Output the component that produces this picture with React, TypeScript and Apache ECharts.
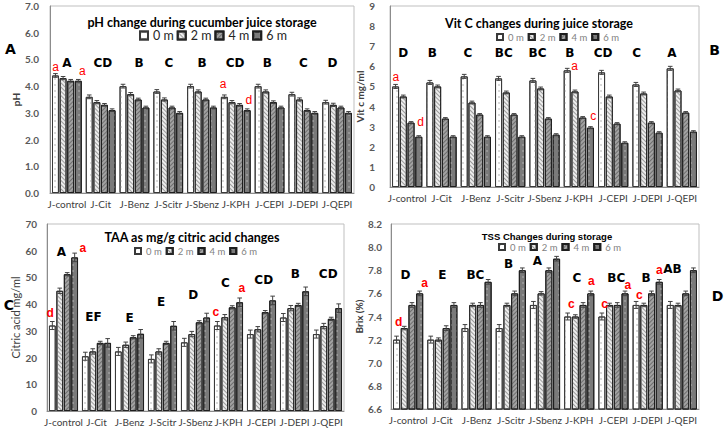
import React, { useEffect, useRef } from 'react';
import * as echarts from 'echarts';

const categories = ['J-control', 'J-Cit', 'J-Benz', 'J-Scitr', 'J-Sbenz', 'J-KPH', 'J-CEPI', 'J-DEPI', 'J-QEPI'];
const periods = ['0 m', '2 m', '4 m', '6 m'];

// Panel A: pH
const ph0m = [4.4, 3.6, 4.0, 3.8, 4.0, 3.6, 4.0, 3.7, 3.4];
const ph2m = [4.3, 3.4, 3.7, 3.5, 3.8, 3.4, 3.8, 3.5, 3.3];
const ph4m = [4.2, 3.3, 3.5, 3.2, 3.5, 3.3, 3.4, 3.1, 3.2];
const ph6m = [4.2, 3.1, 3.2, 3.0, 3.2, 3.1, 3.2, 3.0, 3.0];
const phErr = [0.07, 0.06, 0.05, 0.05];
const phLetters = [
  { cat: 0, bar: 1.5, y: 4.86, t: 'A' }, { cat: 1, bar: 1.8, y: 4.86, t: 'CD' }, { cat: 2, bar: 2.1, y: 4.86, t: 'B' },
  { cat: 3, bar: 1.6, y: 4.86, t: 'C' }, { cat: 4, bar: 1.5, y: 4.86, t: 'B' }, { cat: 5, bar: 1.4, y: 4.86, t: 'CD' },
  { cat: 6, bar: 1.2, y: 4.86, t: 'B' }, { cat: 7, bar: 1.5, y: 4.86, t: 'C' }, { cat: 8, bar: 0.9, y: 4.86, t: 'D' },
];
const phMarks = [
  { cat: 0, bar: 0.03, y: 4.71, t: 'a' }, { cat: 0, bar: 3.54, y: 4.55, t: 'a' },
  { cat: 5, bar: -0.16, y: 4.07, t: 'a' }, { cat: 5, bar: 3.22, y: 3.48, t: 'd' },
];

// Panel B: Vitamin C
const vc0m = [5.0, 5.2, 5.5, 5.4, 5.3, 5.8, 5.7, 5.1, 5.9];
const vc2m = [4.5, 5.0, 4.2, 4.7, 4.9, 4.75, 4.5, 4.65, 4.8];
const vc4m = [3.2, 3.4, 3.6, 3.6, 3.4, 3.45, 3.15, 3.2, 3.7];
const vc6m = [2.5, 2.5, 2.5, 2.5, 2.6, 2.95, 2.2, 2.7, 2.75];
const vcErr = [0.1, 0.07, 0.05, 0.05];
const vcLetters = [
  { cat: 0, bar: 1.0, y: 6.64, t: 'D' }, { cat: 1, bar: 0.33, y: 6.64, t: 'B' }, { cat: 2, bar: 0.46, y: 6.64, t: 'C' },
  { cat: 3, bar: 0.68, y: 6.64, t: 'BC' }, { cat: 4, bar: 0.6, y: 6.64, t: 'BC' }, { cat: 5, bar: 0.34, y: 6.64, t: 'B' },
  { cat: 6, bar: 0.2, y: 6.64, t: 'CD' }, { cat: 7, bar: 0.1, y: 6.64, t: 'C' }, { cat: 8, bar: 0.2, y: 6.64, t: 'A' },
];
const vcMarks = [
  { cat: 0, bar: 0.03, y: 5.49, t: 'a' }, { cat: 0, bar: 3.22, y: 3.25, t: 'd' },
  { cat: 5, bar: 0.95, y: 6.02, t: 'a' }, { cat: 5, bar: 3.36, y: 3.55, t: 'c' },
];

// Panel C: TAA
const taa0m = [32, 20.5, 22.3, 19.5, 25.7, 32, 28.8, 35, 28.8];
const taa2m = [45, 22.3, 24.8, 22.3, 28.8, 35.1, 30.6, 38.5, 31.8];
const taa4m = [51.2, 25.5, 27.6, 25.5, 33.2, 38.8, 37, 39.7, 34.5];
const taa6m = [57.5, 25.5, 28.9, 31.9, 35, 40.7, 41.4, 44.8, 38.5];
const taaErr = [1.5, 1.0, 0.6, 1.6];
const taaLetters = [
  { cat: 0, bar: 1.2, y: 59.6, t: 'A' }, { cat: 1, bar: 1.1, y: 35.3, t: 'EF' }, { cat: 2, bar: 1.5, y: 34.9, t: 'E' },
  { cat: 3, bar: 1.3, y: 40.9, t: 'E' }, { cat: 4, bar: 1.2, y: 43.4, t: 'D' }, { cat: 5, bar: 1.1, y: 47.8, t: 'C' },
  { cat: 6, bar: 1.8, y: 49.0, t: 'CD' }, { cat: 7, bar: 1.6, y: 51.2, t: 'B' }, { cat: 8, bar: 1.6, y: 51.2, t: 'CD' },
];
const taaMarks = [
  { cat: 0, bar: -0.29, y: 36.8, t: 'd' }, { cat: 0, bar: 4.1, y: 60.9, t: 'a' },
  { cat: 5, bar: -0.2, y: 37.2, t: 'c' }, { cat: 5, bar: 3.3, y: 45.9, t: 'a' },
];

// Panel D: TSS
const tss0m = [7.2, 7.2, 7.3, 7.3, 7.5, 7.4, 7.4, 7.5, 7.5];
const tss2m = [7.3, 7.2, 7.5, 7.5, 7.6, 7.4, 7.5, 7.5, 7.5];
const tss4m = [7.5, 7.3, 7.5, 7.6, 7.8, 7.5, 7.5, 7.6, 7.6];
const tss6m = [7.6, 7.5, 7.7, 7.8, 7.9, 7.6, 7.6, 7.7, 7.8];
const tssErr = [0.03, 0.015, 0.02, 0.02];
const tssLetters = [
  { cat: 0, bar: 1.15, y: 7.76, t: 'D' }, { cat: 1, bar: 1.5, y: 7.76, t: 'E' }, { cat: 2, bar: 1.35, y: 7.76, t: 'BC' },
  { cat: 3, bar: 1.2, y: 7.85, t: 'B' }, { cat: 4, bar: 0.5, y: 7.88, t: 'A' }, { cat: 5, bar: 1.2, y: 7.73, t: 'C' },
  { cat: 6, bar: 1.86, y: 7.73, t: 'BC' }, { cat: 7, bar: 1.28, y: 7.73, t: 'B' }, { cat: 8, bar: 0.28, y: 7.81, t: 'AB' },
];
const tssMarks = [
  { cat: 0, bar: 0.28, y: 7.35, t: 'd' }, { cat: 0, bar: 3.65, y: 7.69, t: 'a' },
  { cat: 5, bar: 0.48, y: 7.51, t: 'c' }, { cat: 5, bar: 3.07, y: 7.71, t: 'a' },
  { cat: 6, bar: 0.35, y: 7.51, t: 'c' }, { cat: 6, bar: 3.38, y: 7.67, t: 'a' },
  { cat: 7, bar: 0.41, y: 7.59, t: 'c' }, { cat: 7, bar: 3.0, y: 7.8, t: 'a' },
];

const BAR_W = 0.205;
const BAR_GAP = 0.1;
const STEP = BAR_W * (1 + BAR_GAP);

const barStyles = [
  {
    color: '#ffffff', borderColor: '#3a3a3a', borderWidth: 1,
    decal: { symbol: 'circle', symbolSize: 0.8, color: '#c4c4c4', dashArrayX: [1.5, 4], dashArrayY: [1.5, 4] },
  },
  {
    color: '#ececec', borderColor: '#262626', borderWidth: 1,
    decal: { symbol: 'rect', color: '#9c9c9c', dashArrayX: [1, 0], dashArrayY: [1, 2], rotation: Math.PI / 4 },
  },
  {
    color: '#a2a2a2', borderColor: '#1e1e1e', borderWidth: 1,
    decal: { symbol: 'rect', color: '#6e6e6e', dashArrayX: [1, 0], dashArrayY: [1, 1.6], rotation: -Math.PI / 4 },
  },
  {
    color: '#7a7a7a', borderColor: '#1e1e1e', borderWidth: 1,
    decal: { symbol: 'circle', symbolSize: 0.8, color: '#a6a6a6', dashArrayX: [1.5, 3.5], dashArrayY: [1.5, 3.5] },
  },
];

const panels = [
  {
    values: [ph0m, ph2m, ph4m, ph6m], err: phErr, letters: phLetters, marks: phMarks,
    grid: { left: 50, top: 6, width: 304, height: 187 },
    y: { min: 0, max: 7, interval: 1, dec: 1, name: 'pH', nameGap: 14, nameSize: 10, nameBold: true, labelMargin: 11 },
    legend: { left: 139, top: 29, icon: 8, gap: 3, size: 12.5, color: '#262626' },
    title: { text: 'pH change during cucumber juice storage', x: 202, y: 22, font: 'bold 12.5px Lato' },
    markBold: false,
  },
  {
    values: [vc0m, vc2m, vc4m, vc6m], err: vcErr, letters: vcLetters, marks: vcMarks,
    grid: { left: 390, top: 6, width: 309, height: 181 },
    y: { min: 0, max: 9, interval: 1, dec: 0, name: 'Vit c mg/ml', nameGap: 19, nameSize: 10, nameBold: true, labelMargin: 15 },
    legend: { left: 496, top: 32, icon: 6, gap: 4, size: 9.5, color: '#7f7f7f' },
    title: { text: 'Vit C changes during juice storage', x: 539, y: 23, font: 'bold 12.5px Lato' },
    markBold: false,
  },
  {
    values: [taa0m, taa2m, taa4m, taa6m], err: taaErr, letters: taaLetters, marks: taaMarks,
    grid: { left: 47, top: 224, width: 297, height: 187 },
    y: { min: 0, max: 70, interval: 10, dec: 0, name: 'Citric acid mg/ml', nameGap: 21, nameSize: 11, nameBold: false, labelMargin: 10 },
    legend: { left: 134, top: 246, icon: 6, gap: 4, size: 9.5, color: '#7f7f7f' },
    title: { text: 'TAA as mg/g citric acid changes', x: 192, y: 237, font: 'bold 12.5px Lato' },
    markBold: true,
  },
  {
    values: [tss0m, tss2m, tss4m, tss6m], err: tssErr, letters: tssLetters, marks: tssMarks,
    grid: { left: 391, top: 224, width: 308, height: 185 },
    y: { min: 6.6, max: 8.2, interval: 0.2, dec: 1, name: 'Brix (%)', nameGap: 22, nameSize: 10, nameBold: true, labelMargin: 9 },
    legend: { left: 498, top: 242, icon: 6, gap: 4, size: 9.5, color: '#7f7f7f' },
    title: { text: 'TSS Changes during storage', x: 547, y: 236, font: 'bold 9.5px "Liberation Sans"' },
    markBold: true,
  },
];

const panelLetters = [
  { t: 'A', x: 10.5, y: 48.5 },
  { t: 'B', x: 714.5, y: 50 },
  { t: 'C', x: 9, y: 305 },
  { t: 'D', x: 717.5, y: 296 },
];

function App() {
  const ref = useRef<HTMLDivElement>(null);

  useEffect(() => {
    document.body.style.margin = '0';
    const chart = echarts.init(ref.current as HTMLDivElement, null, { renderer: 'svg' });

    const grids: any[] = [];
    const xAxes: any[] = [];
    const yAxes: any[] = [];
    const legends: any[] = [];
    const series: any[] = [];
    const graphics: any[] = [];

    panels.forEach((p, k) => {
      grids.push({ ...p.grid, show: true, borderColor: '#bfbfbf', borderWidth: 1, containLabel: false });
      xAxes.push({
        type: 'category', gridIndex: k, data: categories,
        axisTick: { show: false },
        axisLine: { lineStyle: { color: '#8c8c8c', width: 1 } },
        axisLabel: { interval: 0, fontSize: 10, color: '#404040', fontFamily: 'Lato', margin: 6 },
      });
      yAxes.push({
        type: 'value', gridIndex: k, min: p.y.min, max: p.y.max, interval: p.y.interval,
        splitLine: { show: false },
        axisTick: { show: false },
        axisLine: { show: true, lineStyle: { color: '#8c8c8c', width: 1 } },
        axisLabel: {
          fontSize: 10, fontWeight: 'bold', color: '#595959', fontFamily: 'Lato', margin: p.y.labelMargin,
          formatter: (v: number) => v.toFixed(p.y.dec),
        },
        name: p.y.name, nameLocation: 'middle', nameGap: p.y.nameGap,
        nameTextStyle: {
          fontSize: p.y.nameSize, fontWeight: p.y.nameBold ? 'bold' : 'normal', color: '#404040', fontFamily: 'Lato',
        },
      });
      legends.push({
        show: true, data: periods, left: p.legend.left, top: p.legend.top, orient: 'horizontal',
        icon: 'rect', itemWidth: p.legend.icon, itemHeight: p.legend.icon, itemGap: p.legend.gap,
        selectedMode: false, padding: 0,
        textStyle: { fontSize: p.legend.size, color: p.legend.color, fontFamily: 'Lato' },
      });

      p.values.forEach((vals, i) => {
        series.push({
          type: 'bar', name: periods[i], xAxisIndex: k, yAxisIndex: k, data: vals,
          barWidth: `${BAR_W * 100}%`, barGap: `${BAR_GAP * 100}%`,
          itemStyle: barStyles[i], silent: true,
        });
      });

      const errData: number[][] = [];
      p.values.forEach((vals, i) => {
        vals.forEach((v, c) => errData.push([c, i, v, p.err[i]]));
      });
      series.push({
        type: 'custom', xAxisIndex: k, yAxisIndex: k, z: 5, silent: true,
        encode: { x: 0, y: 2 }, data: errData,
        renderItem: (params: any, api: any) => {
          const c = api.value(0), i = api.value(1), v = api.value(2), e = api.value(3);
          const w = api.size([1, 0])[0];
          const x = api.coord([c, v])[0] + (i - 1.5) * STEP * w;
          const yTop = api.coord([c, v + e])[1];
          const yBot = api.coord([c, v - e])[1];
          const cap = 2.3;
          const st = { stroke: '#404040', lineWidth: 1 };
          return {
            type: 'group',
            children: [
              { type: 'line', shape: { x1: x, y1: yTop, x2: x, y2: yBot }, style: st },
              { type: 'line', shape: { x1: x - cap, y1: yTop, x2: x + cap, y2: yTop }, style: st },
              { type: 'line', shape: { x1: x - cap, y1: yBot, x2: x + cap, y2: yBot }, style: st },
            ],
          };
        },
      });

      const makeTextSeries = (items: { cat: number; bar: number; y: number; t: string }[], font: string, fill: string) => ({
        type: 'custom', xAxisIndex: k, yAxisIndex: k, z: 6, silent: true, clip: false,
        encode: { x: 0, y: 1 },
        data: items.map((m) => [m.cat, m.y, m.bar]),
        renderItem: (params: any, api: any) => {
          const c = api.value(0), y = api.value(1), b = api.value(2);
          const w = api.size([1, 0])[0];
          const pt = api.coord([c, y]);
          return {
            type: 'text',
            x: pt[0] + (b - 1.5) * STEP * w,
            y: pt[1],
            style: {
              text: items[params.dataIndex].t, font, fill,
              align: 'center', verticalAlign: 'middle', textAlign: 'center', textVerticalAlign: 'middle',
            },
          };
        },
      });
      series.push(makeTextSeries(p.letters, 'bold 12px "DejaVu Sans"', '#000000'));
      series.push(makeTextSeries(p.marks, `${p.markBold ? 'bold ' : ''}12px "Liberation Sans"`, '#ff0000'));

      graphics.push({
        type: 'text', x: p.title.x, y: p.title.y, silent: true,
        style: {
          text: p.title.text, font: p.title.font, fill: '#000000',
          align: 'center', verticalAlign: 'middle', textAlign: 'center', textVerticalAlign: 'middle',
        },
      });
    });

    panelLetters.forEach((l) => {
      graphics.push({
        type: 'text', x: l.x, y: l.y, silent: true,
        style: {
          text: l.t, font: 'bold 14px "DejaVu Sans"', fill: '#000000',
          align: 'center', verticalAlign: 'middle', textAlign: 'center', textVerticalAlign: 'middle',
        },
      });
    });

    chart.setOption({
      animation: false,
      backgroundColor: '#ffffff',
      grid: grids,
      xAxis: xAxes,
      yAxis: yAxes,
      legend: legends,
      series,
      graphic: graphics,
    });

    return () => chart.dispose();
  }, []);

  return <div ref={ref} style={{ width: 725, height: 430 }} />;
}

export default App;
